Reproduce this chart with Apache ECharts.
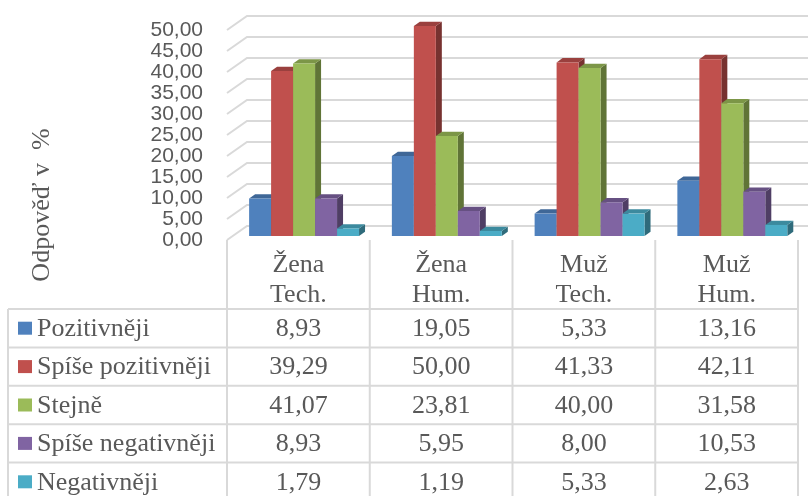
<!DOCTYPE html>
<html>
<head>
<meta charset="utf-8">
<script src="https://cdn.jsdelivr.net/npm/echarts@6/dist/echarts.min.js"></script>
<style>
  html, body { margin: 0; padding: 0; background: #fff; }
  #chart { width: 808px; height: 496px; }
</style>
</head>
<body>
<div id="chart"></div>
<script>
// data
const categories = ['Žena\nTech.', 'Žena\nHum.', 'Muž\nTech.', 'Muž\nHum.']
const seriesNames = ['Pozitivněji', 'Spíše pozitivněji', 'Stejně', 'Spíše negativněji', 'Negativněji']
const pozitivneji = [8.93, 19.05, 5.33, 13.16]
const spisePozitivneji = [39.29, 50.00, 41.33, 42.11]
const stejne = [41.07, 23.81, 40.00, 31.58]
const spiseNegativneji = [8.93, 5.95, 8.00, 10.53]
const negativneji = [1.79, 1.19, 5.33, 2.63]
const yTicks = [0, 5, 10, 15, 20, 25, 30, 35, 40, 45, 50]

const seriesValues = [pozitivneji, spisePozitivneji, stejne, spiseNegativneji, negativneji]
const colors = ['#4F81BD', '#C0504D', '#9BBB59', '#8064A2', '#4BACC6']

const textGray = '#595959'
const lineGray = '#D9D9D9'
// 3d look: wall depth and bar depth offsets
const wallDx = 20, wallDy = -14
const barFrontDx = 5.7, barFrontDy = -4
const barDx = 6, barDy = -4.3

function shade (hex, k) {
  const n = parseInt(hex.slice(1), 16)
  const r = Math.round(((n >> 16) & 255) * k)
  const g = Math.round(((n >> 8) & 255) * k)
  const b = Math.round((n & 255) * k)
  return 'rgb(' + r + ',' + g + ',' + b + ')'
}

function fmt (v) {
  return v.toFixed(2).replace('.', ',')
}

const chart = echarts.init(document.getElementById('chart'))

function wallItem (params, api) {
  const cs = params.coordSys
  const y = api.coord([0, api.value(1)])[1]
  return {
    type: 'polyline',
    shape: { points: [[cs.x, y], [cs.x + wallDx, y + wallDy], [cs.x + cs.width + wallDx, y + wallDy]] },
    style: { stroke: lineGray, lineWidth: 2, fill: null }
  }
}

function barRenderer (s) {
  return function (params, api) {
    const band = api.size([1, 0])[0]
    const bw = band * 0.154
    const c = api.coord([api.value(0), api.value(1)])
    const base = api.coord([api.value(0), 0])[1] + barFrontDy
    const top = c[1] + barFrontDy
    const x = c[0] - bw * 2.5 + s * bw + barFrontDx
    const col = colors[s]
    return {
      type: 'group',
      children: [
        {
          type: 'polygon',
          shape: { points: [[x + bw, top], [x + bw + barDx, top + barDy], [x + bw + barDx, base + barDy], [x + bw, base]] },
          style: { fill: shade(col, 0.62) }
        },
        {
          type: 'polygon',
          shape: { points: [[x, top], [x + barDx, top + barDy], [x + bw + barDx, top + barDy], [x + bw, top]] },
          style: { fill: shade(col, 0.8) }
        },
        {
          type: 'rect',
          shape: { x: x, y: top, width: bw, height: base - top },
          style: { fill: col }
        }
      ]
    }
  }
}

const series = [{
  type: 'custom',
  name: 'walls',
  z: 1,
  silent: true,
  clip: false,
  renderItem: wallItem,
  encode: { x: 0, y: 1 },
  data: yTicks.map(v => [0, v])
}]
seriesValues.forEach((vals, s) => {
  series.push({
    type: 'custom',
    name: seriesNames[s],
    z: 2 + s,
    clip: false,
    renderItem: barRenderer(s),
    encode: { x: 0, y: 1 },
    data: vals.map((v, i) => [i, v])
  })
})

chart.setOption({
  animation: false,
  grid: { left: 227, right: 10, top: 30, bottom: 256 },
  xAxis: {
    type: 'category',
    data: categories,
    axisLine: { show: false },
    axisTick: { show: false },
    axisLabel: { show: false },
    splitLine: { show: false }
  },
  yAxis: {
    type: 'value',
    min: 0,
    max: 50,
    interval: 5,
    axisLine: { show: false },
    axisTick: { show: false },
    splitLine: { show: false },
    axisLabel: {
      margin: 24,
      color: textGray,
      fontSize: 21,
      fontFamily: 'Liberation Sans',
      formatter: fmt
    }
  },
  series: series
})

// data table under the plot
const tableTop = 240
const headerH = 69
const rowH = 38.4
const legendLeft = 8
const serif = '"Liberation Serif", "Times New Roman", serif'
const tableFont = { fontFamily: serif, fontSize: 26, fill: textGray }

const band = chart.convertToPixel({ xAxisIndex: 0 }, 1) - chart.convertToPixel({ xAxisIndex: 0 }, 0)
const centers = categories.map((c, i) => chart.convertToPixel({ xAxisIndex: 0 }, i))
const colEdges = [centers[0] - band / 2].concat(centers.map(c => c + band / 2))
const rightEdge = colEdges[colEdges.length - 1]
const bodyTop = tableTop + headerH

const graphic = []
const line = (x1, y1, x2, y2) => graphic.push({
  type: 'line', silent: true,
  shape: { x1: x1, y1: y1, x2: x2, y2: y2 },
  style: { stroke: lineGray, lineWidth: 2 }
})
const text = (str, x, y, align) => graphic.push({
  type: 'text', silent: true, x: x, y: y,
  style: Object.assign({ text: str, align: align, verticalAlign: 'middle' }, tableFont)
})

colEdges.forEach(x => line(x, tableTop, x, 500))
line(legendLeft, bodyTop, legendLeft, 500)
for (let r = 0; r < seriesNames.length; r++) {
  line(legendLeft, bodyTop + r * rowH, rightEdge, bodyTop + r * rowH)
}

categories.forEach((c, i) => {
  const parts = c.split('\n')
  text(parts[0], centers[i], tableTop + 25, 'center')
  text(parts[1], centers[i], tableTop + 55, 'center')
})

seriesNames.forEach((name, r) => {
  const cy = bodyTop + r * rowH + rowH / 2
  graphic.push({
    type: 'rect', silent: true,
    shape: { x: 18, y: cy - 6.5, width: 14, height: 13 },
    style: { fill: colors[r] }
  })
  text(name, 37, cy + 1, 'left')
  seriesValues[r].forEach((v, i) => text(fmt(v), centers[i], cy + 1, 'center'))
})

graphic.push({
  type: 'text', silent: true, x: 42, y: 205, rotation: Math.PI / 2,
  style: { text: 'Odpověď v  %', align: 'center', verticalAlign: 'middle', fontFamily: serif, fontSize: 26, fill: textGray }
})

chart.setOption({ graphic: graphic })
</script>
</body>
</html>
